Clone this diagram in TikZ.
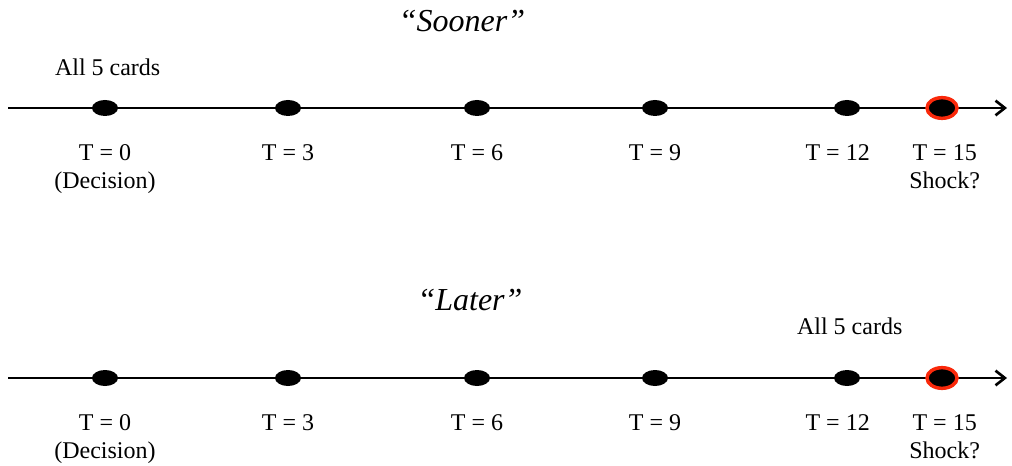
\documentclass[tikz,border=0pt]{standalone}
\usepackage{fontspec}
\setmainfont{Liberation Serif}
\usetikzlibrary{shapes.geometric, arrows.meta, positioning}

\definecolor{shockred}{RGB}{250,40,10}

\begin{document}
\begin{tikzpicture}[
    x=0.75pt, y=-0.75pt,
    dot/.style={ellipse, fill=black, inner sep=0pt,
                minimum width=19.5pt, minimum height=12pt},
    shockdot/.style={dot, draw=shockred, line width=2.6pt,
                minimum width=22.5pt, minimum height=15.5pt},
    axis/.style={-{Straight Barb[length=7pt, width=11pt, line width=2pt]}, line width=1.1pt},
    tlab/.style={font=\fontsize{18}{21}\selectfont, align=center, inner sep=0pt},
    title/.style={font=\fontsize{24}{28}\selectfont\itshape, inner sep=0pt}
]
\useasboundingbox (0,0) rectangle (1012,466);

%% -- "Sooner" timeline ------------------------------------------------------
\coordinate (sA) at (8,108);
\coordinate (eA) at (1007,108);
\draw[axis] (sA) -- (eA);

\node[dot]      (a0)  at (105,108) {};
\node[dot]      (a3)  at (288,108) {};
\node[dot]      (a6)  at (477,108) {};
\node[dot]      (a9)  at (655,108) {};
\node[dot]      (a12) at (847,108) {};
\node[shockdot] (a15) at (942,108) {};

\node[title] (sooner) at (462,21) {``Sooner''};
\node[tlab, above=18pt of a0, xshift=2pt] (cardsA) {All 5 cards};

\node[tlab, below=21pt of a0]                (ta0)  {T = 0\\(Decision)};
\node[tlab, below=21pt of a3]                (ta3)  {T = 3};
\node[tlab, below=21pt of a6]                (ta6)  {T = 6};
\node[tlab, below=21pt of a9]                (ta9)  {T = 9};
\node[tlab, below=21pt of a12, xshift=-7pt]  (ta12) {T = 12};
\node[tlab, below=18pt of a15, xshift=2pt]   (ta15) {T = 15\\Shock?};

%% -- "Later" timeline -------------------------------------------------------
\coordinate (sB) at (8,378);
\coordinate (eB) at (1007,378);
\draw[axis] (sB) -- (eB);

\node[dot]      (b0)  at (105,378) {};
\node[dot]      (b3)  at (288,378) {};
\node[dot]      (b6)  at (477,378) {};
\node[dot]      (b9)  at (655,378) {};
\node[dot]      (b12) at (847,378) {};
\node[shockdot] (b15) at (942,378) {};

\node[title] (later) at (470,300) {``Later''};
\node[tlab, above=26pt of b12, xshift=2pt] (cardsB) {All 5 cards};

\node[tlab, below=21pt of b0]                (tb0)  {T = 0\\(Decision)};
\node[tlab, below=21pt of b3]                (tb3)  {T = 3};
\node[tlab, below=21pt of b6]                (tb6)  {T = 6};
\node[tlab, below=21pt of b9]                (tb9)  {T = 9};
\node[tlab, below=21pt of b12, xshift=-7pt]  (tb12) {T = 12};
\node[tlab, below=18pt of b15, xshift=2pt]   (tb15) {T = 15\\Shock?};

\end{tikzpicture}
\end{document}
